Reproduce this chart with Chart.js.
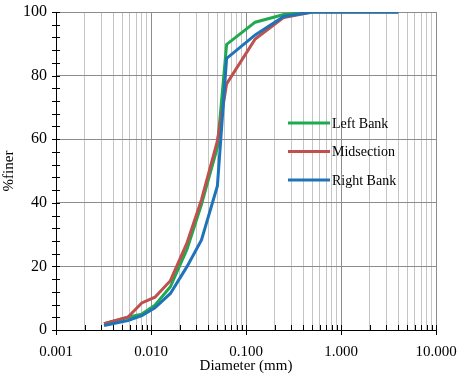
<!DOCTYPE html>
<html>
<head>
<meta charset="utf-8">
<script src="https://cdn.jsdelivr.net/npm/chart.js@4.4.1/dist/chart.umd.min.js"></script>
<style>
  html, body { margin: 0; padding: 0; background: #fff; }
  #wrap { width: 464px; height: 376px; }
</style>
</head>
<body>
<div id="wrap"><canvas id="chart"></canvas></div>
<script>
// grain size distribution, diameter in mm vs % finer
const diameters = [0.0032, 0.0057, 0.008, 0.011, 0.016, 0.024, 0.034, 0.05, 0.0625, 0.125, 0.25, 0.5, 1, 2, 4];
const leftBank   = [2.0, 4.0, 5.0, 7.8, 13.6, 25.5, 39.5, 57.5, 89.8, 96.8, 99.2, 100, 100, 100, 100];
const midsection = [2.0, 4.0, 8.5, 10.3, 15.5, 27.5, 41.0, 59.5, 77.4, 91.5, 98.3, 100, 100, 100, 100];
const rightBank  = [1.4, 3.0, 4.5, 7.0, 11.5, 20.0, 28.3, 45.3, 85.4, 92.8, 98.6, 100, 100, 100, 100];

const seriesNames = ['Left Bank', 'Midsection', 'Right Bank'];
const seriesColors = ['#1FAA4F', '#C0504D', '#1F73B9'];

const xDecades = [0.001, 0.01, 0.1, 1, 10];
const xTickLabels = ['0.001', '0.010', '0.100', '1.000', '10.000'];
const yTicks = [0, 20, 40, 60, 80, 100];

const FONT = 'Liberation Serif, "Times New Roman", serif';

function pts(ys) {
  return diameters.map((d, i) => ({ x: d, y: ys[i] }));
}

function isDecade(v) {
  return xDecades.some(d => Math.abs(v - d) / d < 1e-6);
}

// minor tick marks across the axes and the inner legend
const extras = {
  id: 'extras',
  afterDraw(chart) {
    const { ctx, chartArea: a, scales: { x, y } } = chart;
    ctx.save();
    ctx.strokeStyle = '#000';
    ctx.lineWidth = 1;
    ctx.beginPath();
    for (let v = 0; v <= 100; v += 4) {
      const py = Math.round(y.getPixelForValue(v)) + 0.5;
      ctx.moveTo(a.left - 4, py);
      ctx.lineTo(a.left + 4, py);
    }
    x.ticks.forEach(t => {
      const px = Math.round(x.getPixelForValue(t.value)) + 0.5;
      ctx.moveTo(px, a.bottom - 5);
      ctx.lineTo(px, a.bottom + (isDecade(t.value) ? 5 : 0));
    });
    ctx.stroke();

    // legend
    const lx = 288, ly = 123, gap = 28.5;
    ctx.font = '14px ' + FONT;
    ctx.textBaseline = 'middle';
    ctx.fillStyle = '#000';
    chart.data.datasets.forEach((ds, i) => {
      const yy = ly + i * gap;
      ctx.strokeStyle = ds.borderColor;
      ctx.lineWidth = 3;
      ctx.beginPath();
      ctx.moveTo(lx, yy);
      ctx.lineTo(lx + 42, yy);
      ctx.stroke();
      ctx.fillText(ds.label, lx + 44, yy + 1);
    });
    ctx.restore();
  }
};

new Chart(document.getElementById('chart'), {
  type: 'line',
  data: {
    datasets: [
      { label: seriesNames[0], data: pts(leftBank), borderColor: seriesColors[0], order: 3 },
      { label: seriesNames[1], data: pts(midsection), borderColor: seriesColors[1], order: 2 },
      { label: seriesNames[2], data: pts(rightBank), borderColor: seriesColors[2], order: 1 },
    ],
  },
  options: {
    responsive: true,
    maintainAspectRatio: false,
    animation: false,
    layout: { padding: { top: 12, right: 28, left: 0, bottom: 0 } },
    elements: {
      line: { borderWidth: 3, tension: 0, fill: false },
      point: { radius: 0 },
    },
    plugins: { legend: { display: false }, tooltip: { enabled: false } },
    scales: {
      x: {
        type: 'logarithmic',
        min: 0.001,
        max: 10,
        afterBuildTicks(scale) {
          const ticks = [];
          xDecades.forEach((d, i) => {
            if (i === xDecades.length - 1) { ticks.push({ value: d }); return; }
            for (let k = 1; k <= 9; k++) ticks.push({ value: +(d * k).toPrecision(6) });
          });
          scale.ticks = ticks;
        },
        afterFit(scale) {
          scale.height = 46;
          scale.paddingLeft = 0;
          scale.paddingRight = 0;
        },
        border: { color: '#000', width: 1 },
        grid: {
          drawTicks: false,
          color: ctx => (ctx.tick && isDecade(ctx.tick.value)) ? '#8C8C8C' : '#C4C4C4',
        },
        ticks: {
          autoSkip: false,
          maxRotation: 0,
          padding: 13,
          color: '#000',
          font: { family: FONT, size: 15 },
          callback: v => {
            const i = xDecades.findIndex(d => Math.abs(v - d) / d < 1e-6);
            return i >= 0 ? xTickLabels[i] : '';
          },
        },
        title: {
          display: true,
          text: 'Diameter (mm)',
          color: '#000',
          font: { family: FONT, size: 15 },
          padding: { top: 0, bottom: 1 },
        },
      },
      y: {
        min: 0,
        max: 100,
        afterBuildTicks(scale) { scale.ticks = yTicks.map(v => ({ value: v })); },
        afterFit(scale) {
          scale.width = 56;
          scale.paddingTop = 0;
          scale.paddingBottom = 0;
        },
        border: { color: '#000', width: 1 },
        grid: { drawTicks: false, color: '#8C8C8C' },
        ticks: {
          padding: 9,
          color: '#000',
          font: { family: FONT, size: 16 },
        },
        title: {
          display: true,
          text: '%finer',
          color: '#000',
          font: { family: FONT, size: 15 },
          padding: { top: 0, bottom: 0 },
        },
      },
    },
  },
  plugins: [extras],
});
</script>
</body>
</html>
